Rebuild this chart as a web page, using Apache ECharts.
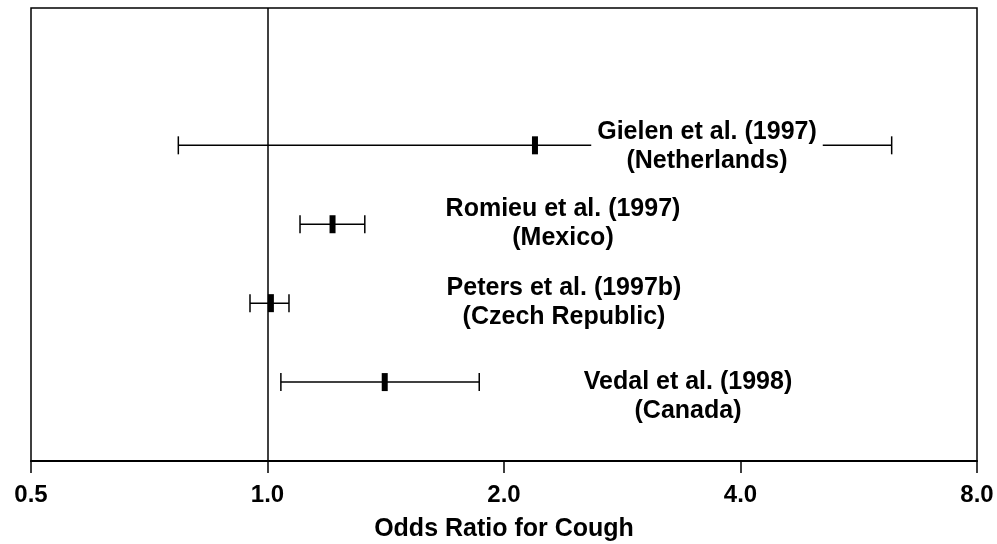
<!DOCTYPE html>
<html>
<head>
<meta charset="utf-8">
<script src="https://cdn.jsdelivr.net/npm/echarts@6/dist/echarts.min.js"></script>
<style>
  html, body { margin: 0; padding: 0; background: #fff; }
  #chart { width: 997px; height: 544px; }
</style>
</head>
<body>
<div id="chart"></div>
<script>
// Studies, listed top to bottom
const studies = ['Gielen et al. (1997)', 'Romieu et al. (1997)', 'Peters et al. (1997b)', 'Vedal et al. (1998)'];
const countries = ['(Netherlands)', '(Mexico)', '(Czech Republic)', '(Canada)'];
// Odds ratios with 95% confidence limits
const oddsRatio = [2.19, 1.21, 1.01, 1.41];
const lowerCI   = [0.77, 1.10, 0.95, 1.04];
const upperCI   = [6.23, 1.33, 1.065, 1.86];
// Row index on the vertical scale (4 = top row)
const rowIndex  = [4, 3, 2, 1];
// Tick values of the log2 axis
const xTicks = [0.5, 1.0, 2.0, 4.0, 8.0];

const FONT = '"Liberation Sans", Arial, Helvetica, sans-serif';

const rows = studies.map((s, i) => [rowIndex[i], lowerCI[i], oddsRatio[i], upperCI[i]]);

// label placement (pixel centres of each two-line caption)
const labelPlacement = [
  { x: 707, y: 147, bg: true },
  { x: 563, y: 224 },
  { x: 564, y: 303 },
  { x: 688, y: 397 }
];

const chart = echarts.init(document.getElementById('chart'), null, { renderer: 'canvas' });

const option = {
  animation: false,
  backgroundColor: '#fff',
  grid: {
    left: 31, right: 20, top: 8, bottom: 83,
    outerBoundsMode: 'none',
    containLabel: false,
    show: true, borderColor: '#000', borderWidth: 1.5, backgroundColor: 'transparent'
  },
  xAxis: {
    type: 'log',
    logBase: 2,
    min: xTicks[0],
    max: xTicks[xTicks.length - 1],
    interval: 1,
    name: 'Odds Ratio for Cough',
    nameLocation: 'middle',
    nameGap: 56,
    nameTextStyle: { fontFamily: FONT, fontWeight: 'bold', fontSize: 25, color: '#000' },
    axisLine: { show: true, lineStyle: { color: '#000', width: 2 } },
    axisTick: { show: true, inside: false, length: 12, lineStyle: { color: '#000', width: 1.5 } },
    axisLabel: {
      margin: 22,
      fontFamily: FONT, fontWeight: 'bold', fontSize: 24, color: '#000',
      formatter: v => Number(v).toFixed(1)
    },
    splitLine: { show: false }
  },
  yAxis: {
    type: 'value', min: 0, max: 5.74,
    show: false
  },
  graphic: studies.map((s, i) => ({
    type: 'text',
    z: 100,
    x: labelPlacement[i].x,
    y: labelPlacement[i].y,
    style: {
      text: s + '\n' + countries[i],
      fill: '#000',
      font: 'bold 25px ' + FONT,
      lineHeight: 29,
      align: 'center',
      verticalAlign: 'middle',
      backgroundColor: labelPlacement[i].bg ? '#fff' : null,
      padding: labelPlacement[i].bg ? [0, 6] : 0
    }
  })),
  series: [
    {
      type: 'custom',
      coordinateSystem: 'cartesian2d',
      data: rows,
      encode: { x: [1, 2, 3], y: 0 },
      renderItem: function (params, api) {
        const y = api.value(0);
        const lo = api.coord([api.value(1), y]);
        const pt = api.coord([api.value(2), y]);
        const hi = api.coord([api.value(3), y]);
        const cap = 9;
        const lineStyle = { stroke: '#000', lineWidth: 1.5 };
        return {
          type: 'group',
          children: [
            { type: 'line', shape: { x1: lo[0], y1: lo[1], x2: hi[0], y2: hi[1] }, style: lineStyle },
            { type: 'line', shape: { x1: lo[0], y1: lo[1] - cap, x2: lo[0], y2: lo[1] + cap }, style: lineStyle },
            { type: 'line', shape: { x1: hi[0], y1: hi[1] - cap, x2: hi[0], y2: hi[1] + cap }, style: lineStyle },
            { type: 'rect', shape: { x: pt[0] - 3, y: pt[1] - 9, width: 6, height: 18 }, style: { fill: '#000' } }
          ]
        };
      },
      markLine: {
        silent: true,
        symbol: 'none',
        label: { show: false },
        lineStyle: { color: '#000', width: 1.5, type: 'solid' },
        data: [{ xAxis: 1.0 }]
      }
    }
  ]
};

chart.setOption(option);
</script>
</body>
</html>
